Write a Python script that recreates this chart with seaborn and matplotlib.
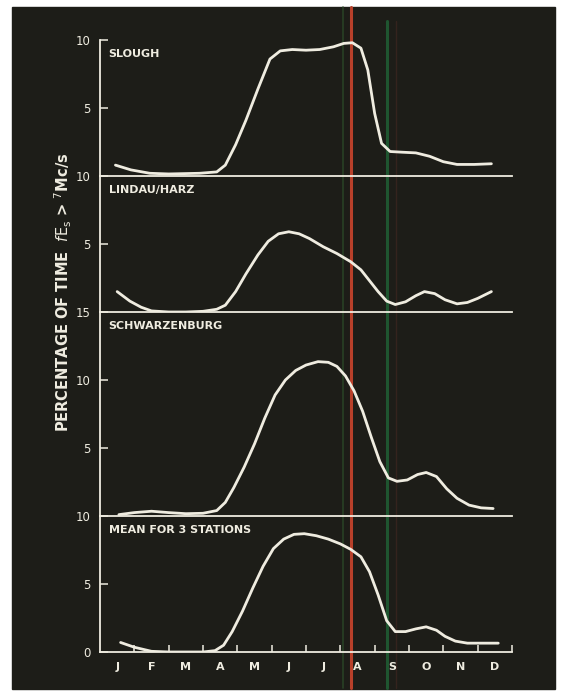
"""Seasonal occurrence of sporadic-E (fEs > 7 Mc/s) at three stations."""
import matplotlib

matplotlib.use("Agg")
import matplotlib.pyplot as plt
from matplotlib.patches import Rectangle
import seaborn as sns

sns.set_style("ticks")
plt.rcParams["font.family"] = ["DejaVu Sans"]

MONTHS = ["J", "F", "M", "A", "M", "J", "J", "A", "S", "O", "N", "D"]

# curves: x in months (0 = start of Jan), y in percent of time
slough_x = [0.45, 0.9, 1.45, 2.0, 2.9, 3.4, 3.65, 3.95, 4.25, 4.6, 4.95, 5.25, 5.6, 6.0, 6.4, 6.8, 7.1, 7.35, 7.6, 7.8, 8.0, 8.2, 8.45, 8.8, 9.2, 9.6, 10.0, 10.4, 10.9, 11.4]
slough_y = [0.8, 0.45, 0.2, 0.15, 0.2, 0.3, 0.8, 2.3, 4.1, 6.4, 8.6, 9.2, 9.3, 9.25, 9.3, 9.5, 9.75, 9.8, 9.4, 7.8, 4.6, 2.4, 1.8, 1.75, 1.7, 1.45, 1.05, 0.85, 0.85, 0.9]

lindau_x = [0.5, 0.87, 1.2, 1.5, 2.0, 2.5, 3.0, 3.4, 3.65, 3.95, 4.25, 4.6, 4.9, 5.2, 5.5, 5.8, 6.1, 6.5, 6.9, 7.3, 7.6, 7.85, 8.1, 8.35, 8.6, 8.9, 9.2, 9.45, 9.75, 10.05, 10.4, 10.7, 11.0, 11.4]
lindau_y = [1.5, 0.8, 0.35, 0.08, 0.0, 0.0, 0.05, 0.2, 0.5, 1.5, 2.8, 4.2, 5.2, 5.75, 5.9, 5.75, 5.4, 4.8, 4.3, 3.7, 3.1, 2.3, 1.5, 0.8, 0.55, 0.75, 1.2, 1.5, 1.35, 0.9, 0.6, 0.7, 1.0, 1.5]

schwarz_x = [0.55, 1.0, 1.5, 2.0, 2.5, 3.0, 3.4, 3.65, 3.9, 4.2, 4.5, 4.8, 5.1, 5.4, 5.7, 6.0, 6.35, 6.65, 6.9, 7.15, 7.4, 7.65, 7.9, 8.15, 8.4, 8.65, 8.95, 9.25, 9.5, 9.8, 10.1, 10.4, 10.75, 11.1, 11.45]
schwarz_y = [0.1, 0.25, 0.35, 0.25, 0.17, 0.2, 0.4, 1.0, 2.1, 3.6, 5.3, 7.2, 8.9, 10.0, 10.7, 11.1, 11.35, 11.3, 11.0, 10.3, 9.2, 7.7, 5.8, 4.0, 2.8, 2.55, 2.65, 3.05, 3.2, 2.9, 2.0, 1.3, 0.8, 0.6, 0.55]

mean_x = [0.6, 1.0, 1.5, 2.0, 2.5, 3.0, 3.35, 3.6, 3.85, 4.15, 4.45, 4.75, 5.05, 5.35, 5.65, 5.95, 6.3, 6.65, 7.0, 7.3, 7.6, 7.85, 8.1, 8.35, 8.6, 8.9, 9.2, 9.5, 9.8, 10.05, 10.35, 10.7, 11.1, 11.6]
mean_y = [0.7, 0.35, 0.05, 0.0, 0.0, 0.0, 0.1, 0.5, 1.5, 3.0, 4.7, 6.3, 7.6, 8.3, 8.65, 8.7, 8.55, 8.3, 7.95, 7.55, 7.0, 5.9, 4.2, 2.3, 1.5, 1.5, 1.7, 1.85, 1.6, 1.15, 0.8, 0.65, 0.65, 0.65]

panels = [
    ("SLOUGH", slough_x, slough_y, 10, [5, 10]),
    ("LINDAU/HARZ", lindau_x, lindau_y, 10, [5, 10]),
    ("SCHWARZENBURG", schwarz_x, schwarz_y, 15, [5, 10, 15]),
    ("MEAN FOR 3 STATIONS", mean_x, mean_y, 10, [0, 5, 10]),
]

red_month = 7.32
green_month = 8.37

BG = "#1d1d18"
INK = "#efece0"
W, H = 566, 695
x0_px, x12_px = 100, 512
px_per_month = (x12_px - x0_px) / 12

fig = plt.figure(figsize=(W / 100, H / 100), dpi=100, facecolor="white")

# background layer in month units so the coloured markers line up with the panels
bg = fig.add_axes([0, 0, 1, 1])
bg.set_xlim(-x0_px / px_per_month, (W - x0_px) / px_per_month)
bg.set_ylim(H, 0)
bg.axis("off")
bg.add_patch(Rectangle((-(x0_px - 12) / px_per_month, 7), (555 - 12) / px_per_month, 682, color=BG, zorder=0))
bg.axvline(red_month - 0.24, ymin=0.01, ymax=0.99, color="#2b4a28", lw=1.2, alpha=0.8)
bg.axvline(red_month, ymin=0.01, ymax=0.99, color="#b8402a", lw=2.2)
bg.axvline(green_month, ymin=0.01, ymax=0.97, color="#1f5530", lw=2.2)
bg.axvline(green_month + 0.24, ymin=0.01, ymax=0.97, color="#3e2620", lw=1.0, alpha=0.7)

gs = fig.add_gridspec(
    4, 1, left=x0_px / W, right=x12_px / W, top=1 - 40 / H, bottom=1 - 652 / H,
    height_ratios=[p[3] for p in panels], hspace=0,
)

for i, (name, xs, ys, top, ticks) in enumerate(panels):
    ax = fig.add_subplot(gs[i])
    ax.set_facecolor("none")
    sns.lineplot(x=xs, y=ys, ax=ax, color=INK, lw=2.0, estimator=None, sort=False)
    ax.set_xlim(0, 12)
    ax.set_ylim(0, top)
    ax.set_yticks(ticks)
    ax.set_yticklabels([str(t) for t in ticks])
    ax.tick_params(axis="y", direction="in", length=6, width=1.1, colors=INK, labelsize=8.5, pad=7)
    for side in ("top", "right"):
        ax.spines[side].set_visible(False)
    for side in ("left", "bottom"):
        ax.spines[side].set_color(INK)
        ax.spines[side].set_linewidth(1.3)
    ax.text(0.25, top - 1.0, name, color=INK, fontsize=8, fontweight="bold", va="center", ha="left")
    if i < len(panels) - 1:
        ax.set_xticks([])
    else:
        ax.set_xticks([m + 0.5 for m in range(12)])
        ax.set_xticklabels(MONTHS)
        ax.set_xticks(range(1, 13), minor=True)
        ax.tick_params(axis="x", which="major", length=0, colors=INK, labelsize=8, pad=7)
        ax.tick_params(axis="x", which="minor", direction="in", length=5, width=1.1, color=INK)
        for lab in ax.get_xticklabels():
            lab.set_fontweight("bold")

fig.text(
    63 / W, 1 - 292 / H,
    r"PERCENTAGE OF TIME  $f\mathrm{E_s}$ > $^{7}$Mc/s",
    rotation=90, color=INK, fontsize=10.5, fontweight="bold", ha="center", va="center",
)

fig.savefig("out.png", dpi=100, facecolor="white")
